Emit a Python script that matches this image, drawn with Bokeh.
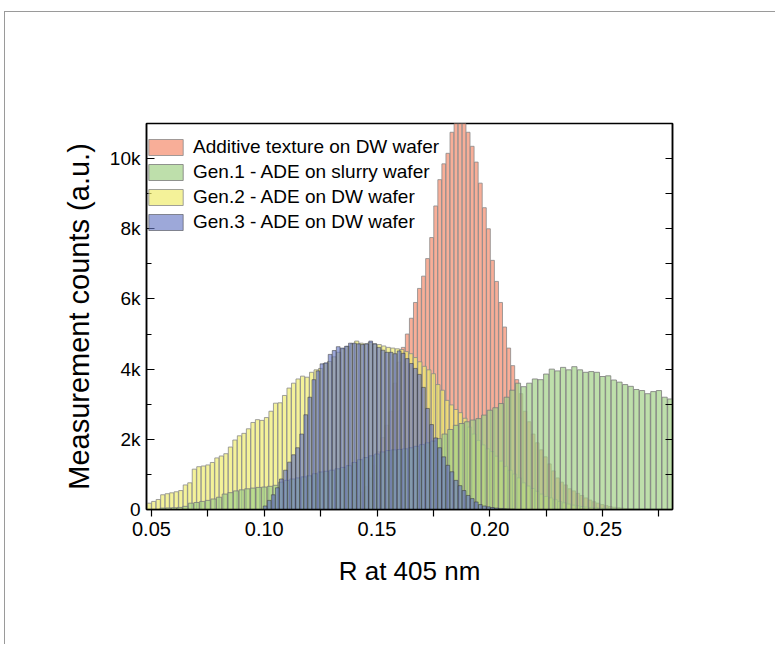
from bokeh.plotting import figure
from bokeh.models import Range1d, LinearAxis, FixedTicker, Legend, LegendItem, NumeralTickFormatter
from bokeh.embed import file_html
from bokeh.resources import INLINE

# ---------------- data ----------------
series_names = ["Additive texture on DW wafer", "Gen.1 - ADE on slurry wafer",
                "Gen.2 - ADE on DW wafer", "Gen.3 - ADE on DW wafer"]

red_start, red_bin = 0.1400, 0.0018
red_counts = [250, 380, 500, 650, 900, 1250, 1650, 2050, 2400, 2800, 3600, 4200, 4620, 5000,
              5450, 5900, 6300, 6650, 7150, 7750, 8650, 9400, 9850, 10150, 10750, 11300, 11800,
              11500, 10750, 10350, 9900, 9300, 8600, 8000, 7100, 6500, 5900, 5200, 4600, 4100,
              3700, 3300, 2800, 2500, 2150, 1900, 1700, 1500, 1300, 1100, 900, 780, 700, 590,
              530, 460, 400, 330, 270, 220, 180, 140, 110, 85, 65, 50, 38, 28, 20]

green_start, green_bin = 0.0550, 0.0025
green_counts = [40, 45, 50, 60, 90, 180, 200, 230, 260, 300, 350, 440, 480, 530, 560, 590, 610,
                630, 640, 660, 690, 780, 830, 870, 900, 930, 960, 1020, 1070, 1090, 1120, 1160,
                1200, 1250, 1340, 1420, 1480, 1530, 1580, 1640, 1680, 1700, 1710, 1730, 1760,
                1800, 1850, 1900, 1950, 2020, 2150, 2280, 2400, 2450, 2500, 2550, 2590, 2690,
                2830, 2900, 3020, 3200, 3400, 3600, 3500, 3600, 3720, 3700, 3860, 4000, 3950,
                4050, 3980, 4070, 3980, 3910, 3930, 3910, 3790, 3810, 3690, 3630, 3560, 3510,
                3420, 3390, 3300, 3360, 3390, 3200, 3150]

yellow_start, yellow_bin = 0.0470, 0.0020
yellow_counts = [130, 180, 230, 285, 420, 450, 475, 505, 540, 700, 760, 1150, 1220, 1240, 1270,
                 1340, 1470, 1525, 1590, 1780, 1980, 2100, 2170, 2300, 2480, 2560, 2540, 2620,
                 2800, 3030, 3040, 3250, 3460, 3600, 3720, 3800, 3770, 3910, 3980, 4020, 4160,
                 4220, 4350, 4480, 4580, 4650, 4720, 4800, 4740, 4720, 4760, 4720, 4700, 4660,
                 4620, 4600, 4580, 4560, 4500, 4440, 4330, 4210, 4080, 3980, 3870, 3560, 3400,
                 3110, 2980, 2850, 2760, 2600, 2350, 2150, 1970, 1840, 1730, 1650, 1520, 1380,
                 1230, 1120, 1010, 900, 760, 670, 600, 520, 440, 370, 330, 280, 230, 190, 155,
                 125, 105, 85, 70, 60, 50, 42, 36, 30, 26, 22, 18, 15, 12, 10, 8, 6]

blue_start, blue_bin = 0.1004, 0.0018
blue_counts = [100, 260, 420, 620, 870, 1120, 1350, 1560, 1760, 2150, 2700, 3200, 3700, 3950,
               4150, 4180, 4420, 4530, 4640, 4600, 4650, 4740, 4740, 4720, 4700, 4720, 4800,
               4720, 4620, 4540, 4480, 4480, 4440, 4520, 4450, 4300, 4160, 4020, 3850, 3480,
               2880, 2420, 2040, 1760, 1500, 1260, 1075, 830, 680, 540, 400, 310, 215, 140, 100,
               75, 55, 40, 30, 22, 15, 10]

x_ticks = [0.05, 0.10, 0.15, 0.20, 0.25]
x_minor = [0.075, 0.125, 0.175, 0.225, 0.275]
y_ticks = [0, 2000, 4000, 6000, 8000, 10000]
y_tick_labels = ["0", "2k", "4k", "6k", "8k", "10k"]
y_minor = [1000, 3000, 5000, 7000, 9000, 11000]

x_label = "R at 405 nm"
y_label = "Measurement counts (a.u.)"

# ---------------- figure ----------------
FRAME_H = 386
p = figure(width=771, height=633, output_backend="svg", toolbar_location=None,
           x_range=Range1d(0.0478, 0.281), y_range=Range1d(0, 11000),
           min_border_left=141, min_border_right=104, min_border_top=111, min_border_bottom=136,
           styles={"margin-left": "4px", "margin-top": "11px",
                   "border-left": "1px solid #9a9a9a", "border-top": "1px solid #9a9a9a"})
p.xgrid.visible = False
p.ygrid.visible = False
p.outline_line_color = "black"
p.outline_line_width = 1.5
p.background_fill_color = "white"
p.border_fill_color = "white"

def centers(start, step, n):
    return [start + step * i for i in range(n)]

# style per series: fill colour, fill alpha, line colour, line alpha
styles = {
    0: ("#F58F70", 0.72, "#8a8a8a", 0.8),
    1: ("#A3D187", 0.70, "#7a7a7a", 0.8),
    2: ("#EFEC6E", 0.70, "#8a8a8a", 0.8),
    3: ("#6677C4", 0.64, "#333333", 0.5),
}
data = {
    0: (red_start, red_bin, red_counts),
    1: (green_start, green_bin, green_counts),
    2: (yellow_start, yellow_bin, yellow_counts),
    3: (blue_start, blue_bin, blue_counts),
}
renderers = {}
for k in [0, 2, 1, 3]:  # drawing order
    st, bw, cnt = data[k]
    fc, fa, lc, la = styles[k]
    renderers[k] = p.vbar(x=centers(st, bw, len(cnt)), top=cnt, bottom=0, width=bw * 0.92,
                          fill_color=fc, fill_alpha=fa, line_color=lc, line_alpha=la, line_width=1)

items = [LegendItem(label=series_names[k], renderers=[renderers[k]]) for k in range(4)]
legend = Legend(items=items, location=(-2, FRAME_H - 20 - 90), glyph_width=43, glyph_height=20,
                spacing=3, padding=0, margin=0, label_standoff=6,
                label_text_font="Liberation Sans", label_text_font_size="19px",
                label_text_color="black",
                label_height=20, border_line_alpha=0, background_fill_alpha=0)
p.add_layout(legend, "center")

font = "Liberation Sans"
# bottom axis
xa = p.xaxis[0]
xa.ticker = FixedTicker(ticks=x_ticks, minor_ticks=x_minor)
xa.formatter = NumeralTickFormatter(format="0.00")
xa.axis_label = x_label
xa.major_tick_in = 0
xa.major_tick_out = 7
xa.minor_tick_in = 0
xa.minor_tick_out = 7

ya = p.yaxis[0]
ya.ticker = FixedTicker(ticks=y_ticks, minor_ticks=y_minor)
ya.major_label_overrides = {t: l for t, l in zip(y_ticks, y_tick_labels)}
ya.axis_label = y_label
ya.major_tick_in = 8
ya.major_tick_out = 0
ya.minor_tick_in = 5
ya.minor_tick_out = 0

ra = LinearAxis(ticker=FixedTicker(ticks=y_ticks, minor_ticks=y_minor),
                major_label_text_alpha=0, major_label_text_font_size="1px")
ra.major_tick_in = 7
ra.major_tick_out = 0
ra.minor_tick_in = 7
ra.minor_tick_out = 0
p.add_layout(ra, "right")

for ax in [xa, ya, ra]:
    ax.axis_line_color = "black"
    ax.axis_line_width = 1.5
    ax.major_tick_line_color = "black"
    ax.minor_tick_line_color = "black"
    ax.major_tick_line_width = 1.2
    ax.minor_tick_line_width = 1.2
    ax.major_label_text_font = font
    ax.major_label_text_color = "black"
    ax.axis_label_text_font = font
    ax.axis_label_text_font_style = "normal"
    ax.axis_label_text_color = "black"

xa.major_label_text_font_size = "20px"
ya.major_label_text_font_size = "19px"
xa.major_label_standoff = 5
ya.major_label_standoff = 6
xa.axis_label_text_font_size = "26px"
xa.axis_label_standoff = 17
ya.axis_label_text_font_size = "29px"
ya.axis_label_standoff = 12

open("out.html", "w").write(file_html(p, INLINE))
